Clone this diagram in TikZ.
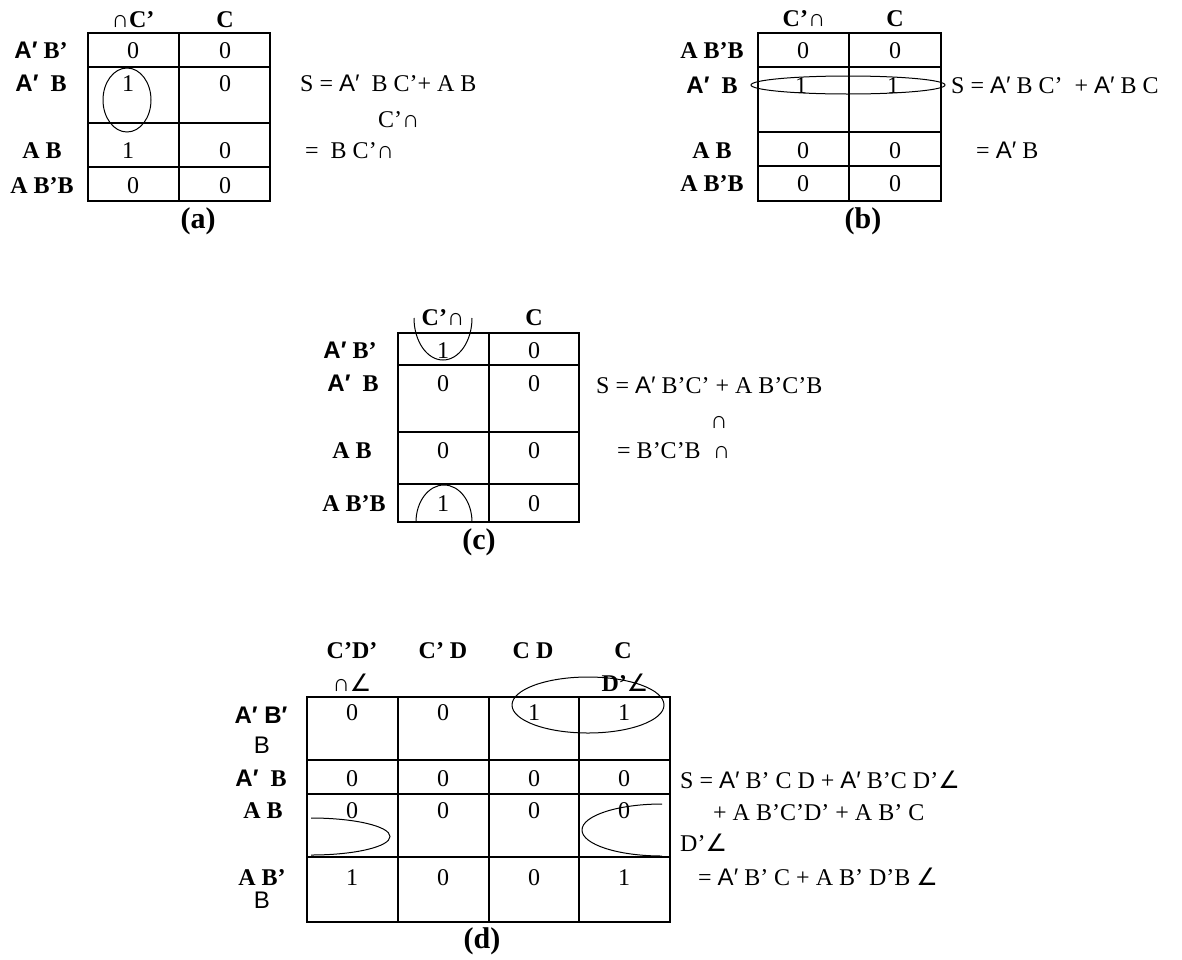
\documentclass[tikz,border=0pt]{standalone}
\usepackage{fontspec}
\setmainfont{Liberation Serif}
\newfontfamily\sa{Liberation Sans}
\newfontfamily\sy{DejaVu Sans}
\newcommand\fs{\fontsize{24}{28}\selectfont}
\newcommand\fl{\fontsize{30}{34}\selectfont}
\newcommand\Ap{{\sa A′}}
\newcommand\Apb{{\sa\bfseries A′}}
\newcommand\ang{{\sy ∠}}
\newcommand\cp{{\mdseries ∩}}
\tikzset{
  gline/.style={line width=1.6pt},
  ring/.style={line width=1pt},
  tx/.style={inner sep=0pt, text height=16pt, text depth=0pt, font=\fs},
  hd/.style={tx, font=\fs\bfseries},
  lab/.style={inner sep=0pt, font=\fl\bfseries},
  eq/.style={tx, anchor=west},
}
\begin{document}
\begin{tikzpicture}[x=1pt,y=-1pt]
\useasboundingbox[fill=white] (0,0) rectangle (1182,959);

% ---------------- (a) ----------------
\draw[gline] (88,33) rectangle (270,201);
\draw[gline] (179,33) -- (179,201);
\foreach \yy in {67,123,167} \draw[gline] (88,\yy) -- (270,\yy);
\node[hd] (ah1) at (133,19) {\cp C’};
\node[hd] (ah2) at (225,19) {C};
\node[hd] (ar1) at (41,50) {\Apb\ B’};
\node[hd] (ar2) at (41,83) {\Apb\ \ B};
\node[hd] (ar3) at (42,150) {A B};
\node[hd] (ar4) at (42,185) {A B’B};
\node[tx] (a11) at (133,50) {0};
\node[tx] (a12) at (225,50) {0};
\node[tx] (a21) at (128,83) {1};
\node[tx] (a22) at (225,83) {0};
\node[tx] (a31) at (128,150) {1};
\node[tx] (a32) at (225,150) {0};
\node[tx] (a41) at (133,185) {0};
\node[tx] (a42) at (225,185) {0};
\draw[ring] (127,100) ellipse [x radius=24pt, y radius=32pt];
\node[eq] (ae1) at (300,83) {S = \Ap\ \ B C’+ A B};
\node[eq] (ae2) at (378,119) {C’∩};
\node[eq] (ae3) at (305,150) {= \ B C’∩};
\node[lab] (alab) at (198,221) {(a)};

% ---------------- (b) ----------------
\draw[gline] (758,33) rectangle (941,201);
\draw[gline] (849,33) -- (849,201);
\foreach \yy in {67,132,166} \draw[gline] (758,\yy) -- (941,\yy);
\node[hd] (bh1) at (804,18) {C’\cp};
\node[hd] (bh2) at (895,18) {C};
\node[hd] (br1) at (712,50) {A B’B};
\node[hd] (br2) at (712,85) {\Apb\ \ B};
\node[hd] (br3) at (712,150) {A B};
\node[hd] (br4) at (712,183) {A B’B};
\node[tx] (b11) at (803,50) {0};
\node[tx] (b12) at (895,50) {0};
\node[tx] (b21) at (801,85) {1};
\node[tx] (b22) at (893,85) {1};
\node[tx] (b31) at (803,150) {0};
\node[tx] (b32) at (895,150) {0};
\node[tx] (b41) at (803,183) {0};
\node[tx] (b42) at (895,183) {0};
\draw[ring] (848,85) ellipse [x radius=97pt, y radius=9pt];
\node[eq] (be1) at (951,85) {S = \Ap\ B C’ \ + \Ap\ B C};
\node[eq] (be2) at (976,150) {= \Ap\ B};
\node[lab] (blab) at (863,221) {(b)};

% ---------------- (c) ----------------
\draw[gline] (398,333) rectangle (579,522);
\draw[gline] (489,333) -- (489,522);
\foreach \yy in {365,432,484} \draw[gline] (398,\yy) -- (579,\yy);
\node[hd] (ch1) at (443,317) {C’\cp};
\node[hd] (ch2) at (534,317) {C};
\node[hd] (cr1) at (350,350) {\Apb\ B’};
\node[hd] (cr2) at (353,383) {\Apb\ \ B};
\node[hd] (cr3) at (352,450) {A B};
\node[hd] (cr4) at (354,503) {A B’B};
\node[tx] (c11) at (443,350) {1};
\node[tx] (c12) at (534,350) {0};
\node[tx] (c21) at (443,383) {0};
\node[tx] (c22) at (534,383) {0};
\node[tx] (c31) at (443,450) {0};
\node[tx] (c32) at (534,450) {0};
\node[tx] (c41) at (443,503) {1};
\node[tx] (c42) at (534,503) {0};
\draw[ring] (414,318) arc[start angle=180, end angle=360, x radius=29pt, y radius=42pt];
\draw[ring] (416,522) arc[start angle=180, end angle=0, x radius=28pt, y radius=37pt];
\node[eq] (ce1) at (596,385) {S = \Ap\ B’C’ + A B’C’B};
\node[tx] (ce2) at (719,420) {∩};
\node[eq] (ce3) at (617,450) {= B’C’B \ ∩};
\node[lab] (clab) at (479,542) {(c)};

% ---------------- (d) ----------------
\draw[gline] (307,697) rectangle (670,922);
\foreach \xx in {398,489,579} \draw[gline] (\xx,697) -- (\xx,922);
\foreach \yy in {760,794,857} \draw[gline] (307,\yy) -- (670,\yy);
\node[hd] (dh1) at (352,650) {C’D’};
\node[hd] (dh2) at (443,650) {C’ D};
\node[hd] (dh3) at (533,650) {C D};
\node[hd] (dh4) at (623,650) {C};
\node[tx] (dh5) at (352,683) {∩\ang};
\node[tx] (dh6) at (625,683) {\textbf{D’}\ang};
\node[tx] (dr1) at (261,715) {\sa\bfseries A′ B′};
\node[tx] (dr1b) at (262,745) {\sa B};
\node[hd] (dr2) at (261,778) {\Apb\ \ B};
\node[hd] (dr3) at (263,810) {A B};
\node[hd] (dr4) at (262,877) {A B’};
\node[tx] (dr4b) at (262,900) {\sa B};
\node[tx] (d11) at (352,712) {0};
\node[tx] (d12) at (443,712) {0};
\node[tx] (d13) at (534,712) {1};
\node[tx] (d14) at (624,712) {1};
\node[tx] (d21) at (352,778) {0};
\node[tx] (d22) at (443,778) {0};
\node[tx] (d23) at (534,778) {0};
\node[tx] (d24) at (624,778) {0};
\node[tx] (d31) at (352,810) {0};
\node[tx] (d32) at (443,810) {0};
\node[tx] (d33) at (534,810) {0};
\node[tx] (d34) at (624,810) {0};
\node[tx] (d41) at (352,877) {1};
\node[tx] (d42) at (443,877) {0};
\node[tx] (d43) at (534,877) {0};
\node[tx] (d44) at (624,877) {1};
\draw[ring] (588,705) ellipse [x radius=76pt, y radius=28pt];
\draw[ring] (311,818) arc[start angle=90, end angle=-90, x radius=79pt, y radius=18.5pt];
\draw[ring] (662,804) arc[start angle=90, end angle=270, x radius=80pt, y radius=26pt];
\node[eq] (de1) at (680,780) {S = \Ap\ B’ C D + \Ap\ B’C D’\ang};
\node[eq] (de2) at (713,812) {+ A B’C’D’ + A B’ C};
\node[eq] (de3) at (680,843) {D’\ang};
\node[eq] (de4) at (698,877) {= \Ap\ B’ C + A B’ D’B \ang};
\node[lab] (dlab) at (482,941) {(d)};
\end{tikzpicture}
\end{document}
